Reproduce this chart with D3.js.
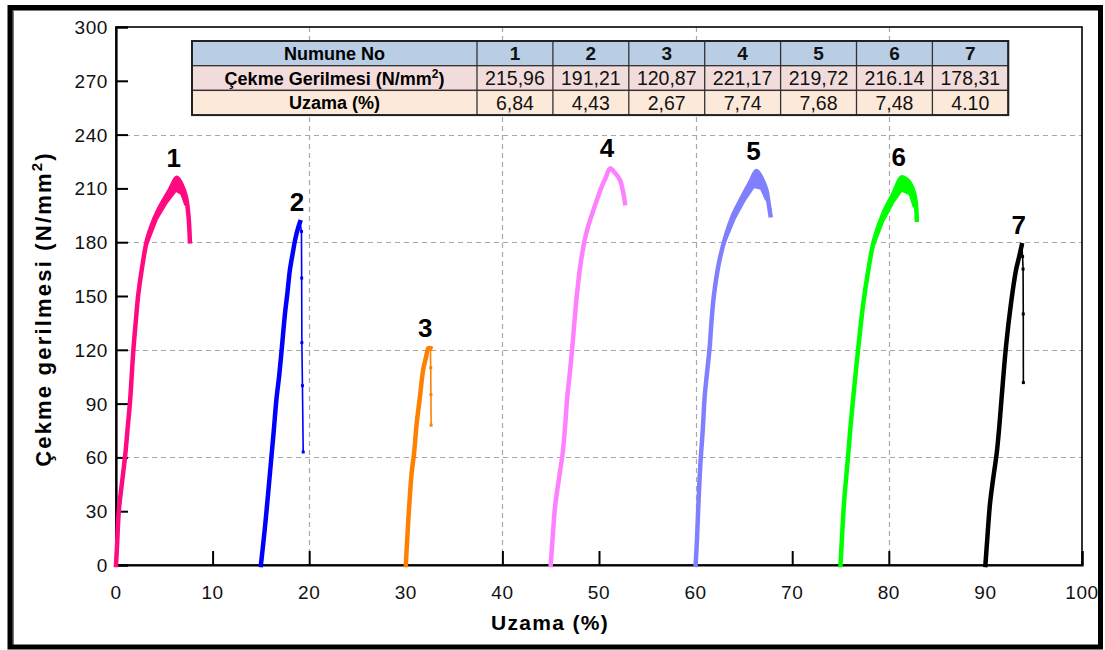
<!DOCTYPE html>
<html>
<head>
<meta charset="utf-8">
<script src="https://cdn.jsdelivr.net/npm/d3@7"></script>
<style>
  html, body { margin: 0; padding: 0; background: #fff; }
  svg { display: block; font-family: "Liberation Sans", Arial, sans-serif; }
</style>
</head>
<body>
<svg id="chart" width="1105" height="650"></svg>
<script>
// ---- data -------------------------------------------------------------
const specimens = ["1", "2", "3", "4", "5", "6", "7"];
const tensileStrength = [215.96, 191.21, 120.87, 221.17, 219.72, 216.14, 178.31];
const strengthText = ["215,96", "191,21", "120,87", "221,17", "219,72", "216.14", "178,31"];
const elongationText = ["6,84", "4,43", "2,67", "7,74", "7,68", "7,48", "4.10"];
const startOffsets = [0, 15, 30, 45, 60, 75, 90];   // each curve shifted along the strain axis
const colors = ["#ff0a80", "#0000ff", "#ff8000", "#ff80ff", "#8080ff", "#00ff00", "#000000"];
const strainTicks = d3.range(0, 101, 10);
const stressTicks = d3.range(0, 301, 30);
const gridStrain = [20, 40, 60, 80];
const gridStress = [60, 120, 180, 240];

// stress-strain traces: [strain %, stress N/mm²] (strain relative to the curve's start)
const curve1 = [[0,0],[0.1,10],[0.3,30.7],[0.6,45],[0.95,61],[1.2,76],[1.45,91],[1.8,120],[2.05,136],[2.3,150.6],
  [2.7,166],[3.2,181],[3.7,189.5],[4.3,197],[4.9,203],[5.6,209.5],[6.3,215.96],[6.8,212],[7.25,205],[7.5,195],[7.65,180.5]];
const curve2 = [[0,0],[0.4,20],[0.75,40],[1.1,61],[1.35,76],[1.6,92],[1.9,106],[2.15,120],[2.5,140.5],[2.75,152],
  [3.0,164.5],[3.3,174],[3.53,181],[3.8,187],[4.05,191.21]];
const curve3 = [[0,0],[0.1,10],[0.26,25],[0.6,51],[0.85,62],[1.13,79],[1.47,94],[1.8,109],[2.1,116],[2.33,120.87],[2.55,120.87]];
const curve4 = [[0,0],[0.2,15],[0.45,32.5],[0.85,48],[1.24,62.5],[1.5,78],[1.72,94],[2.0,108],[2.24,121.7],[2.45,135],
  [2.69,149.6],[3.1,168.2],[3.55,182],[4.0,191],[4.41,197.7],[5.28,211],[5.7,216],[6.14,221.17],[6.6,219],[7.17,214.7],[7.5,208],[7.69,201.8]];
const curve5 = [[0,0],[0.15,15],[0.3,35],[0.5,56.7],[0.75,76],[0.94,94],[1.2,108],[1.46,121.7],[1.65,136],[1.88,149.6],
  [2.4,168],[3.04,182],[3.96,196],[5.0,207],[5.7,214],[6.3,219.72],[6.9,215],[7.33,209],[7.55,202],[7.75,195]];
const curve6 = [[0,0],[0.15,15],[0.36,34.4],[0.81,62.3],[1.05,78],[1.33,94],[1.85,121.7],[2.36,145.9],[2.88,164.5],
  [3.47,181],[4.43,196],[5.47,207],[6.33,216.14],[6.8,215],[7.2,212.8],[7.7,205.4],[7.9,192.5]];
const curve7 = [[0,0],[0.2,15],[0.48,34.4],[0.8,48],[1.17,62.3],[1.45,78],[1.69,94],[2.13,121.7],[2.65,145.9],
  [3.17,164.5],[3.5,172],[3.76,178.31]];

// thin fracture drops after the peak
const tail2 = [[4.05,191.21],[4.2,186],[4.22,160],[4.24,124],[4.3,100],[4.38,63]];
const tail3 = [[2.55,120.87],[2.58,110],[2.6,95],[2.62,78]];
const tail7 = [[3.76,178.31],[3.85,172],[3.9,165],[3.92,140],[3.93,101.7]];

// lower edge of the scattered band near the peak
const band1 = [[3.2,179],[4.2,193],[5.2,202],[6.2,209],[6.8,207],[7.2,201]];
const band5 = [[3.0,180],[4.0,193],[5.0,203],[6.0,211],[6.8,210],[7.3,204]];
const band6 = [[3.4,178],[4.4,192],[5.4,202],[6.3,209],[7.2,207],[7.6,200]];

const curves = [curve1, curve2, curve3, curve4, curve5, curve6, curve7];
const tails = [null, tail2, tail3, null, null, null, tail7];
const bands = [band1, null, null, null, band5, band6, null];

// ---- layout -------------------------------------------------------------
const svg = d3.select("#chart");
const plot = { left: 116, right: 1082, top: 27, bottom: 565 };
const x = d3.scaleLinear().domain([0, 100]).range([plot.left, plot.right]);
const y = d3.scaleLinear().domain([0, 300]).range([plot.bottom, plot.top]);

// grid
const grid = svg.append("g").attr("stroke", "#a8a8a8").attr("stroke-width", 1.2).attr("stroke-dasharray", "5,4");
grid.selectAll(".gy").data(gridStress).join("line")
  .attr("x1", plot.left).attr("x2", plot.right)
  .attr("y1", d => Math.round(y(d)) + 0.5).attr("y2", d => Math.round(y(d)) + 0.5);
grid.selectAll(".gx").data(gridStrain).join("line")
  .attr("y1", plot.top).attr("y2", plot.bottom)
  .attr("x1", d => Math.round(x(d)) + 0.5).attr("x2", d => Math.round(x(d)) + 0.5);

// plot frame
svg.append("rect")
  .attr("x", plot.left).attr("y", plot.top)
  .attr("width", plot.right - plot.left).attr("height", plot.bottom - plot.top)
  .attr("fill", "none").attr("stroke", "#000").attr("stroke-width", 1.6);

// axes (ticks point inward)
const xAxis = svg.append("g").attr("transform", `translate(0,${plot.bottom})`)
  .call(d3.axisTop(x).tickValues(strainTicks).tickSize(14).tickFormat(""));
const yAxis = svg.append("g").attr("transform", `translate(${plot.left},0)`)
  .call(d3.axisRight(y).tickValues(stressTicks).tickSize(12).tickFormat(""));
[xAxis, yAxis].forEach(a => {
  a.select(".domain").attr("stroke", "#000").attr("stroke-width", 2.2);
  a.selectAll(".tick line").attr("stroke", "#000").attr("stroke-width", 2);
});

svg.append("g").selectAll("text").data(strainTicks).join("text")
  .attr("x", d => x(d)).attr("y", 599)
  .attr("text-anchor", "middle").attr("font-size", 19).attr("letter-spacing", 0.6)
  .attr("fill", "#111").text(d => d);
svg.append("g").selectAll("text").data(stressTicks).join("text")
  .attr("x", 108).attr("y", d => y(d) + 7)
  .attr("text-anchor", "end").attr("font-size", 19).attr("letter-spacing", 0.6)
  .attr("fill", "#111").text(d => d);

// axis titles
svg.append("text").attr("x", 550).attr("y", 630)
  .attr("text-anchor", "middle").attr("font-size", 21).attr("font-weight", "bold")
  .attr("letter-spacing", 1.3).text("Uzama (%)");
const yt = svg.append("text")
  .attr("transform", "translate(51,309) rotate(-90)")
  .attr("text-anchor", "middle").attr("font-size", 22).attr("font-weight", "bold")
  .attr("letter-spacing", 2.2);
yt.append("tspan").text("Çekme gerilmesi (N/mm");
yt.append("tspan").attr("font-size", 15).attr("dy", -9).text("2");
yt.append("tspan").attr("dy", 9).text(")");

// ---- curves -------------------------------------------------------------
const curveG = svg.append("g");
curves.forEach((pts, i) => {
  const off = startOffsets[i];
  const line = d3.line().x(d => x(d[0] + off)).y(d => y(d[1]));
  const smooth = d3.line().x(d => x(d[0] + off)).y(d => y(d[1])).curve(d3.curveCatmullRom.alpha(0.5));
  const g = curveG.append("g");
  if (bands[i]) {
    const lo = bands[i];
    const s0 = lo[0][0], s1 = lo[lo.length - 1][0];
    const upper = pts.filter(d => d[0] >= s0 && d[0] <= s1);
    const poly = [lo[0]].concat(upper, [lo[lo.length - 1]], lo.slice().reverse());
    g.append("path").attr("d", line(poly) + "Z")
      .attr("fill", colors[i]).attr("stroke", colors[i]).attr("stroke-width", 3).attr("stroke-linejoin", "round");
  }
  g.append("path").attr("d", smooth(pts))
    .attr("fill", "none").attr("stroke", colors[i]).attr("stroke-width", 4.5)
    .attr("stroke-linejoin", "round").attr("stroke-linecap", "square");
  if (tails[i]) {
    g.append("path").attr("d", line(tails[i]))
      .attr("fill", "none").attr("stroke", colors[i]).attr("stroke-width", 1.6);
    g.selectAll("rect").data(tails[i]).join("rect")
      .attr("x", d => x(d[0] + off) - 1.5).attr("y", d => y(d[1]) - 1.5)
      .attr("width", 3).attr("height", 3).attr("fill", colors[i]);
  }
  // specimen number above the peak
  const peak = pts.reduce((a, b) => (b[1] > a[1] ? b : a));
  svg.append("text")
    .attr("x", x(peak[0] + off) - 3).attr("y", y(peak[1]) - 11)
    .attr("text-anchor", "middle").attr("font-size", 26).attr("font-weight", "bold")
    .text(specimens[i]);
});

// ---- summary table ------------------------------------------------------
const tbl = { left: 192, top: 41, firstCol: 285, colW: 75.9, rowH: 24.7 };
const rowFills = ["#b9cde5", "#f2dcdb", "#fde9d9"];
const rowLabels = ["Numune No", "Çekme Gerilmesi (N/mm", "Uzama (%)"];
const rowValues = [specimens, strengthText, elongationText];
const tg = svg.append("g");
rowFills.forEach((fill, r) => {
  const ry = tbl.top + r * tbl.rowH;
  tg.append("rect").attr("x", tbl.left).attr("y", ry)
    .attr("width", tbl.firstCol + tbl.colW * specimens.length).attr("height", tbl.rowH)
    .attr("fill", fill).attr("stroke", "#333").attr("stroke-width", 1.3);
  const lbl = tg.append("text")
    .attr("x", tbl.left + tbl.firstCol / 2).attr("y", ry + tbl.rowH / 2 + 6.5)
    .attr("text-anchor", "middle").attr("font-size", 18).attr("font-weight", "bold");
  lbl.append("tspan").text(rowLabels[r]);
  if (r === 1) {
    lbl.append("tspan").attr("font-size", 12).attr("dy", -7).text("2");
    lbl.append("tspan").attr("dy", 7).text(")");
  }
  tg.selectAll(null).data(rowValues[r]).join("text")
    .attr("x", (d, c) => tbl.left + tbl.firstCol + tbl.colW * (c + 0.5))
    .attr("y", ry + tbl.rowH / 2 + 7)
    .attr("text-anchor", "middle")
    .attr("font-size", r === 0 ? 19 : 19.5)
    .attr("font-weight", r === 0 ? "bold" : "normal")
    .attr("fill", "#111")
    .text(d => d);
});
tg.selectAll(".vline").data(d3.range(specimens.length + 1)).join("line")
  .attr("x1", c => tbl.left + tbl.firstCol + tbl.colW * c)
  .attr("x2", c => tbl.left + tbl.firstCol + tbl.colW * c)
  .attr("y1", tbl.top).attr("y2", tbl.top + 3 * tbl.rowH)
  .attr("stroke", "#333").attr("stroke-width", 1.3);
tg.append("rect").attr("x", tbl.left).attr("y", tbl.top)
  .attr("width", tbl.firstCol + tbl.colW * specimens.length).attr("height", 3 * tbl.rowH)
  .attr("fill", "none").attr("stroke", "#222").attr("stroke-width", 2);

// ---- outer figure frame ---------------------------------------------------
svg.append("rect").attr("x", 13).attr("y", 10).attr("width", 1089).attr("height", 638)
  .attr("fill", "none").attr("stroke", "#777").attr("stroke-width", 2);
svg.append("rect").attr("x", 10).attr("y", 7.5).attr("width", 1090.5).attr("height", 639.5)
  .attr("fill", "none").attr("stroke", "#000").attr("stroke-width", 5);
</script>
</body>
</html>
